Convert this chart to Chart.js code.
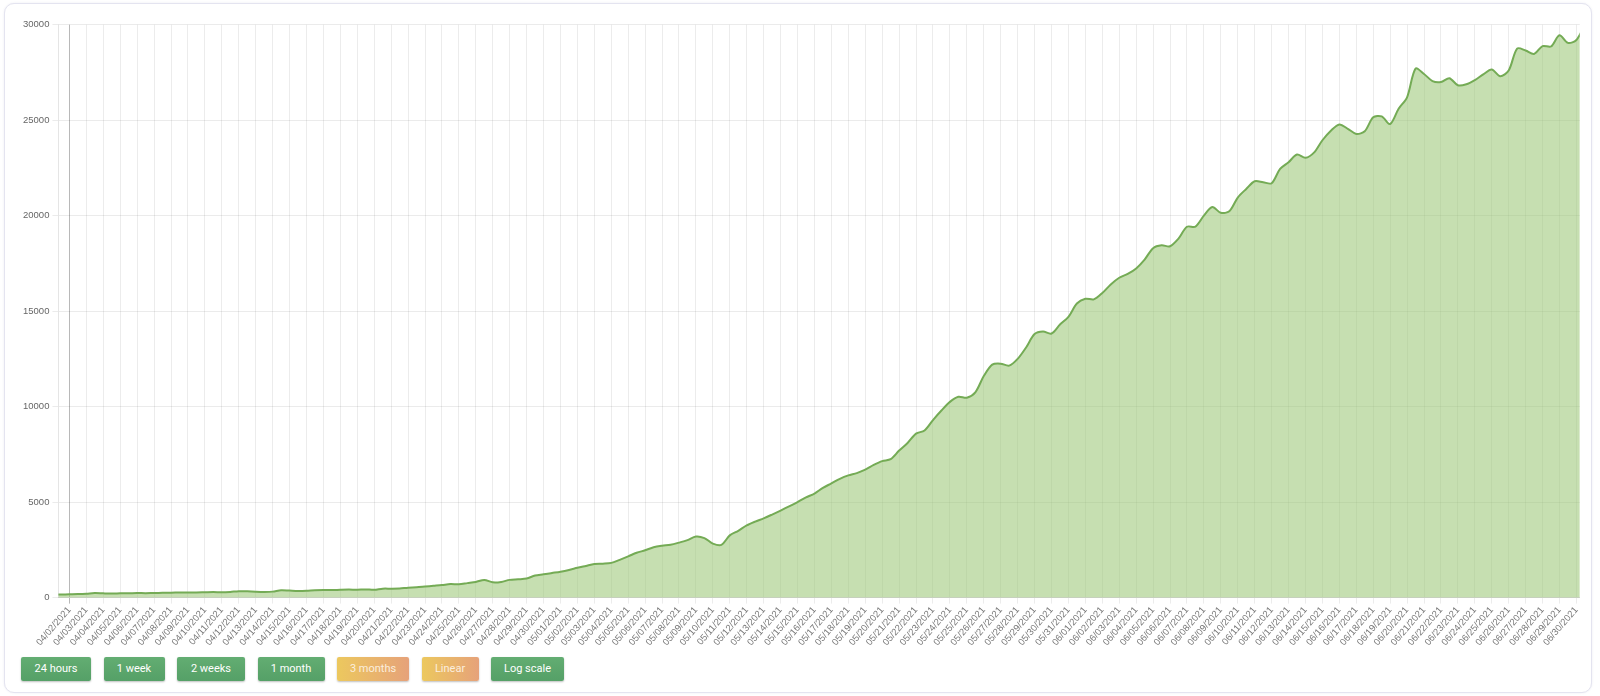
<!DOCTYPE html>
<html>
<head>
<meta charset="utf-8">
<title>Growth chart</title>
<script src="https://cdn.jsdelivr.net/npm/chart.js@4.4.1/dist/chart.umd.min.js"></script>
<style>
  body{
    margin:0;
    width:1600px;
    height:696px;
    background:#fff;
    font-family:"Roboto","Liberation Sans",Arial,sans-serif;
    overflow:hidden;
    position:relative;
  }
  .card{
    position:absolute;
    left:4px; top:3px;
    width:1586px; height:688px;
    border:1px solid #e4e4f0;
    border-radius:10px;
    box-shadow:0 0 2px rgba(120,120,170,0.15);
    background:#fff;
  }
  .chart-box{
    position:absolute;
    left:20px; top:16px;
    width:1566px; height:633px;
  }
  .buttons{
    position:absolute;
    left:21px; top:657px;
    display:flex;
    gap:12.5px;
  }
  .btn{
    height:24px;
    line-height:24px;
    font-size:11px;
    color:#fff;
    text-align:center;
    border-radius:2px;
    background:linear-gradient(#63ad72,#55a067);
    box-shadow:0 1px 2px rgba(0,0,0,0.25);
  }
  .btn.warm{
    color:#fbeede;
    background:linear-gradient(to right,#ecc85e,#e6a27a);
  }
</style>
</head>
<body>

<div class="card"></div>
<div class="chart-box"><canvas id="growthChart"></canvas></div>

<div class="buttons">
  <div class="btn" style="width:70px">24 hours</div>
  <div class="btn" style="width:61px">1 week</div>
  <div class="btn" style="width:68px">2 weeks</div>
  <div class="btn" style="width:67px">1 month</div>
  <div class="btn warm" style="width:72px">3 months</div>
  <div class="btn warm" style="width:57px">Linear</div>
  <div class="btn" style="width:73px">Log scale</div>
</div>

<script>
// ================= DATA =================
// one tick per day, 04/02/2021 is day 0
const dateLabels = [
  "04/02/2021","04/03/2021","04/04/2021","04/05/2021","04/06/2021","04/07/2021","04/08/2021","04/09/2021","04/10/2021","04/11/2021",
  "04/12/2021","04/13/2021","04/14/2021","04/15/2021","04/16/2021","04/17/2021","04/18/2021","04/19/2021","04/20/2021","04/21/2021",
  "04/22/2021","04/23/2021","04/24/2021","04/25/2021","04/26/2021","04/27/2021","04/28/2021","04/29/2021","04/30/2021",
  "05/01/2021","05/02/2021","05/03/2021","05/04/2021","05/05/2021","05/06/2021","05/07/2021","05/08/2021","05/09/2021","05/10/2021",
  "05/11/2021","05/12/2021","05/13/2021","05/14/2021","05/15/2021","05/16/2021","05/17/2021","05/18/2021","05/19/2021","05/20/2021",
  "05/21/2021","05/22/2021","05/23/2021","05/24/2021","05/25/2021","05/26/2021","05/27/2021","05/28/2021","05/29/2021","05/30/2021",
  "05/31/2021",
  "06/01/2021","06/02/2021","06/03/2021","06/04/2021","06/05/2021","06/06/2021","06/07/2021","06/08/2021","06/09/2021","06/10/2021",
  "06/11/2021","06/12/2021","06/13/2021","06/14/2021","06/15/2021","06/16/2021","06/17/2021","06/18/2021","06/19/2021","06/20/2021",
  "06/21/2021","06/22/2021","06/23/2021","06/24/2021","06/25/2021","06/26/2021","06/27/2021","06/28/2021","06/29/2021","06/30/2021"
];

// samples every 12 hours, first one at 04/01/2021 00:00 (day -1)
const firstSampleDay = -1;
const sampleStep = 0.5;
const counts = [
  160,165, 175,185, 205,240, 225,215, 225,230,
  240,235, 245,250, 260,270, 275,270, 280,290,
  280,300, 340,330, 310,300, 315,390, 370,350,
  360,390, 400,395, 410,420, 415,430, 410,470,
  470,480, 520,540, 580,620, 660,710, 700,760,
  820,930, 800,820, 930,960, 1000,1160, 1220,1290,
  1360,1450, 1560,1660, 1760,1780, 1820,1980, 2160,2350,
  2480,2640, 2720,2770, 2880,3010, 3200,3120, 2830,2760,
  3260,3500, 3780,3980, 4150,4350, 4560,4780, 5000,5250,
  5450,5750, 5980,6220, 6400,6520, 6700,6950, 7150,7250,
  7700,8100, 8590,8750, 9300,9800, 10250,10520, 10470,10750,
  11600,12200, 12250,12150, 12500,13100, 13800,13930, 13830,14300,
  14700,15400, 15650,15620, 15950,16400, 16750,16950, 17240,17700,
  18300,18450, 18400,18800, 19420,19430, 20000,20450, 20150,20230,
  20950,21400, 21800,21750, 21700,22450, 22800,23200, 23030,23300,
  23950,24450, 24780,24550, 24280,24420, 25150,25200, 24800,25600,
  26200,27700, 27420,27050, 27000,27200, 26830,26880, 27100,27400,
  27650,27300, 27600,28750, 28650,28470, 28880,28860, 29450,29050,
  29200,30000
];

const yTicks = [0, 5000, 10000, 15000, 20000, 25000, 30000];


// ================= CHART =================
window.onload = () => {
  drawChart();
};

function drawChart(){

  const canvas = document.getElementById("growthChart");
  if(!canvas) return;

  const points = counts.map((v, i) => ({ x: firstSampleDay + i * sampleStep, y: v }));

  const tickFont = { family: "'Liberation Sans', Arial, sans-serif", size: 9.5 };

  new Chart(canvas, {
    type: "line",
    data: {
      datasets: [{
        label: "Total",
        data: points,
        borderColor: "#74ab55",
        backgroundColor: "rgba(151,196,113,0.55)",
        borderWidth: 2,
        fill: "origin",
        tension: 0.3,
        pointRadius: 0
      }]
    },
    options: {
      responsive: true,
      maintainAspectRatio: false,
      animation: false,
      plugins: {
        legend: { display: false },
        tooltip: { enabled: false }
      },
      scales: {
        x: {
          type: "linear",
          min: -0.65,
          max: 89.2,
          grid: {
            color: (ctx) => (ctx.tick && ctx.tick.value === 0) ? "rgba(0,0,0,0.28)" : "rgba(0,0,0,0.075)",
            tickLength: 6
          },
          border: { color: "rgba(0,0,0,0.1)" },
          ticks: {
            stepSize: 1,
            includeBounds: false,
            maxTicksLimit: 200,
            autoSkip: false,
            minRotation: 49,
            maxRotation: 49,
            padding: 1,
            color: "#777",
            font: tickFont,
            callback: (value) => dateLabels[Math.round(value)] || ""
          }
        },
        y: {
          min: yTicks[0],
          max: yTicks[yTicks.length - 1],
          afterBuildTicks: (axis) => {
            axis.ticks = yTicks.map(v => ({ value: v }));
          },
          grid: { color: "rgba(0,0,0,0.08)", tickLength: 6 },
          border: { color: "rgba(0,0,0,0.1)" },
          ticks: {
            color: "#666",
            font: tickFont,
            padding: 3,
            callback: (value) => String(value)
          }
        }
      }
    }
  });

}
</script>
</body>
</html>
